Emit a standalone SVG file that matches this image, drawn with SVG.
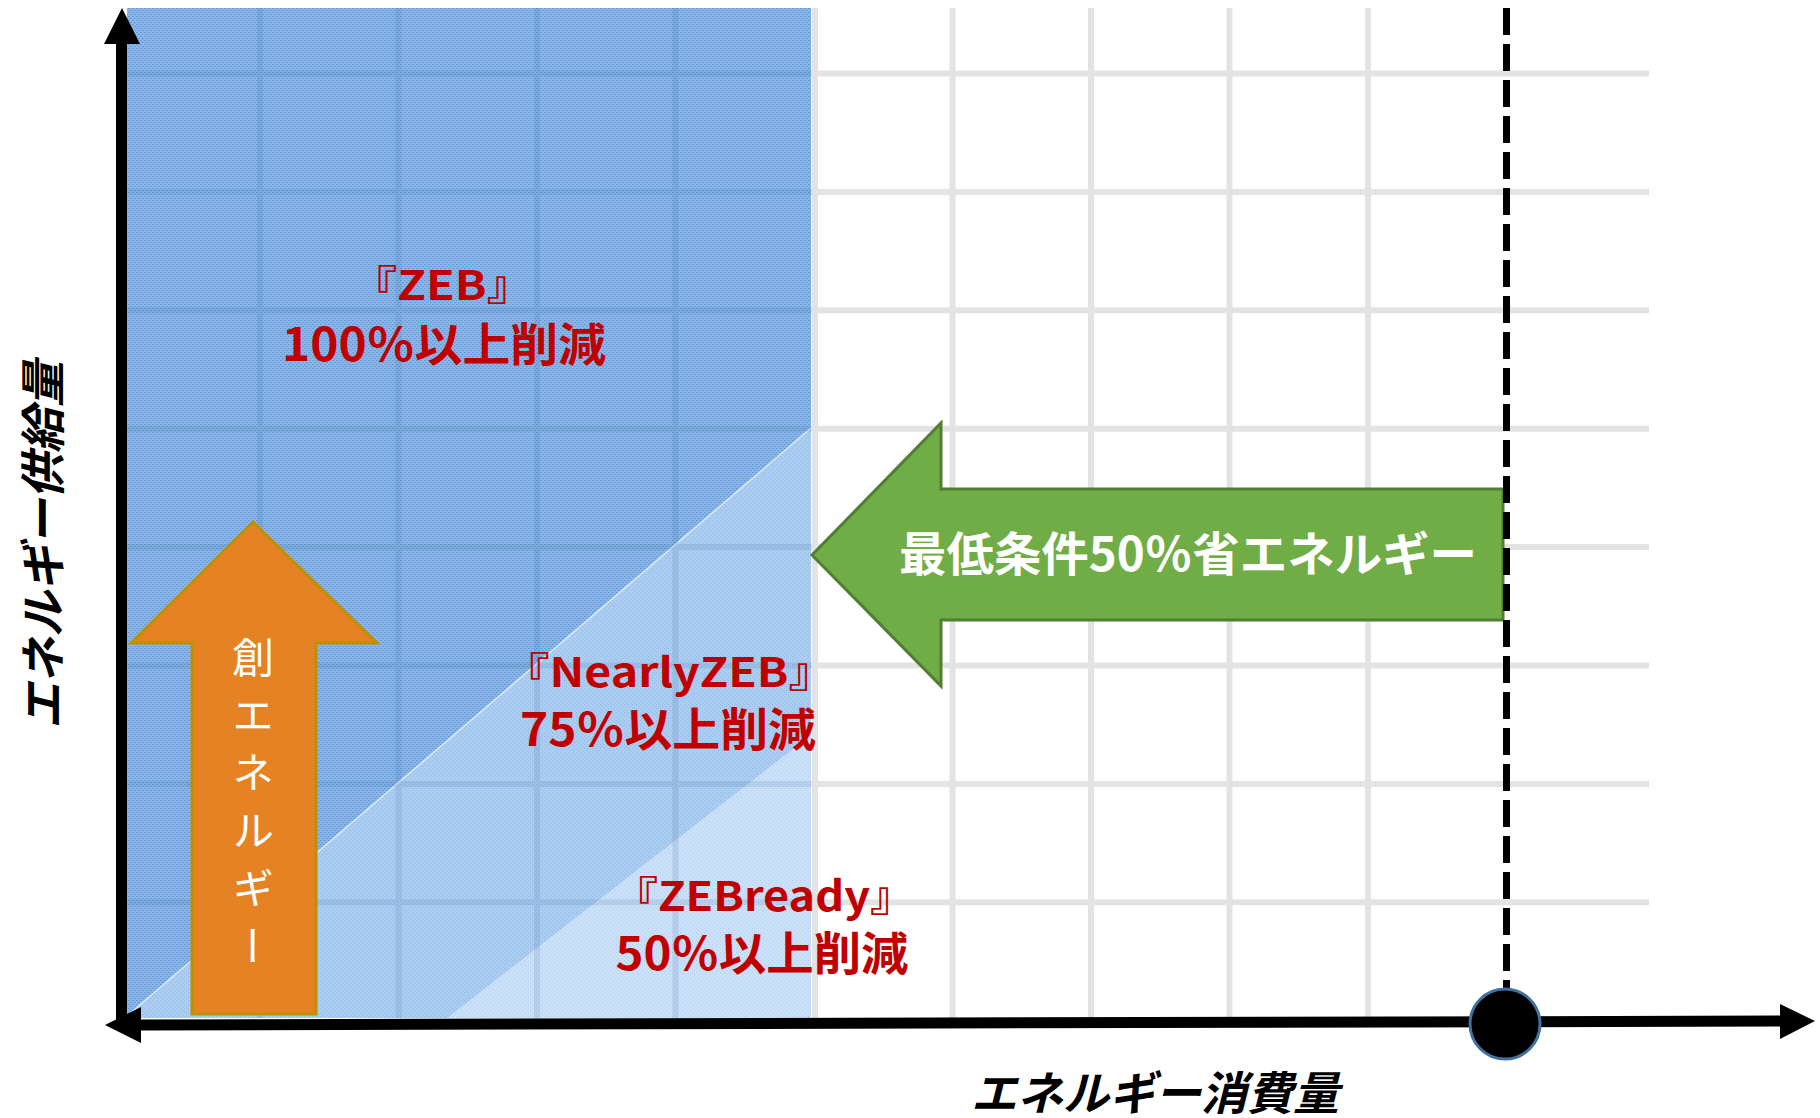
<svg xmlns="http://www.w3.org/2000/svg" width="1820" height="1118" viewBox="0 0 1820 1118">
<defs>
<style>
.grid{stroke:#E3E3E3;stroke-width:6;fill:none}
.gridov{stroke:#3F6E9F;stroke-opacity:0.15;stroke-width:6;fill:none}
.red{font-family:"Noto Sans CJK JP","Noto Sans",sans-serif;font-weight:bold;fill:#C00000;text-anchor:middle}
.axlbl{font-family:"Noto Sans CJK JP","Noto Sans",sans-serif;font-weight:bold;font-style:italic;fill:#000;font-size:46px;text-anchor:middle}
</style>
<pattern id="pDark" width="4" height="4" patternUnits="userSpaceOnUse">
<rect width="4" height="4" fill="#8AB5E6"/>
<rect x="0" y="0" width="1" height="1" fill="#5E96D5"/>
<rect x="2" y="2" width="1" height="1" fill="#5E96D5"/>
<rect x="1" y="0" width="1" height="1" fill="#72A3DB"/>
<rect x="3" y="2" width="1" height="1" fill="#72A3DB"/>
</pattern>
<pattern id="pMid" width="4" height="4" patternUnits="userSpaceOnUse">
<rect width="4" height="4" fill="#ADCDEF"/>
<rect x="0" y="0" width="1" height="1" fill="#8DB7E6"/>
<rect x="2" y="2" width="1" height="1" fill="#8DB7E6"/>
</pattern>
<pattern id="pLight" width="4" height="4" patternUnits="userSpaceOnUse">
<rect width="4" height="4" fill="#CDE1F6"/>
<rect x="0" y="0" width="1" height="1" fill="#AFCDEE"/>
<rect x="2" y="2" width="1" height="1" fill="#AFCDEE"/>
</pattern>
</defs>
<rect width="1820" height="1118" fill="#FFFFFF"/>

<g id="grid">
<path class="grid" d="M815,8V1018 M952.5,8V1018 M1091,8V1018 M1229.5,8V1018 M1368,8V1018"/>
<path class="grid" d="M811,73.5H1649 M811,191.9H1649 M811,310.3H1649 M811,428.7H1649 M811,547.1H1649 M811,665.5H1649 M811,783.9H1649 M811,902.3H1649"/>
</g>

<g id="zones">
<rect x="127" y="8" width="684" height="1010" fill="url(#pDark)"/>
<polygon points="127,1016 811,428 811,1018 127,1018" fill="url(#pMid)"/>
<line x1="127" y1="1016" x2="811" y2="428" stroke="#DDEBF8" stroke-width="1.5"/>
<polygon points="447,1018 811,735 811,1018" fill="url(#pLight)"/>
<path class="gridov" d="M260,8V1018 M398.5,8V1018 M537,8V1018 M675.5,8V1018 M127,73.5H811 M127,191.9H811 M127,310.3H811 M127,428.7H811 M127,547.1H811 M127,665.5H811 M127,783.9H811 M127,902.3H811"/>
</g>

<g id="label-zeb">
<text class="red" x="442" y="300" font-size="41" textLength="183" lengthAdjust="spacingAndGlyphs">『ZEB』</text>
<text class="red" x="444" y="361" font-size="46" textLength="324" lengthAdjust="spacingAndGlyphs">100％以上削減</text>
</g>
<g id="label-nearly">
<text class="red" x="669" y="687" font-size="41" textLength="332" lengthAdjust="spacingAndGlyphs">『NearlyZEB』</text>
<text class="red" x="668" y="746" font-size="46" textLength="296" lengthAdjust="spacingAndGlyphs">75％以上削減</text>
</g>
<g id="label-ready">
<text class="red" x="764" y="911" font-size="41" textLength="302" lengthAdjust="spacingAndGlyphs">『ZEBready』</text>
<text class="red" x="762" y="970" font-size="46" textLength="293" lengthAdjust="spacingAndGlyphs">50％以上削減</text>
</g>

<g id="create-energy">
<polygon points="253,522 377,643 316,643 316,1014 192,1014 192,643 131,643" fill="#E48224" stroke="#BF9000" stroke-width="3"/>
<text x="253" y="636" style="writing-mode:vertical-rl" font-family="'Noto Sans CJK JP',sans-serif" font-size="42" letter-spacing="15.75" fill="#FFFFFF">創エネルギー</text>
</g>

<g id="saving-arrow">
<polygon points="812,555 941,423 941,489 1503,489 1503,620 941,620 941,686" fill="#70AD47" stroke="#507E32" stroke-width="3"/>
<text x="1188" y="571" font-family="'Noto Sans CJK JP',sans-serif" font-weight="bold" font-size="47" fill="#FFFFFF" text-anchor="middle" textLength="578" lengthAdjust="spacingAndGlyphs">最低条件50％省エネルギー</text>
</g>

<g id="connectors">
<line x1="1506.5" y1="8" x2="1506.5" y2="990" stroke="#000" stroke-width="7" stroke-dasharray="27 9"/>
<line x1="121.5" y1="42" x2="121.5" y2="1030" stroke="#000" stroke-width="11"/>
<polygon points="122,8 140,44 104,44" fill="#000"/>
<line x1="138" y1="1025" x2="1784" y2="1021" stroke="#000" stroke-width="11"/>
<polygon points="105,1025 141,1007 141,1043" fill="#000"/>
<polygon points="1815,1021 1780,1004 1780,1039" fill="#000"/>
</g>

<g id="point">
<circle cx="1505" cy="1024" r="35" fill="#000" stroke="#41719C" stroke-width="3"/>
</g>

<g id="axis-labels">
<text class="axlbl" x="1155" y="1110">エネルギー消費量</text>
<text class="axlbl" transform="translate(60,545) rotate(-90)">エネルギー供給量</text>
</g>
</svg>
